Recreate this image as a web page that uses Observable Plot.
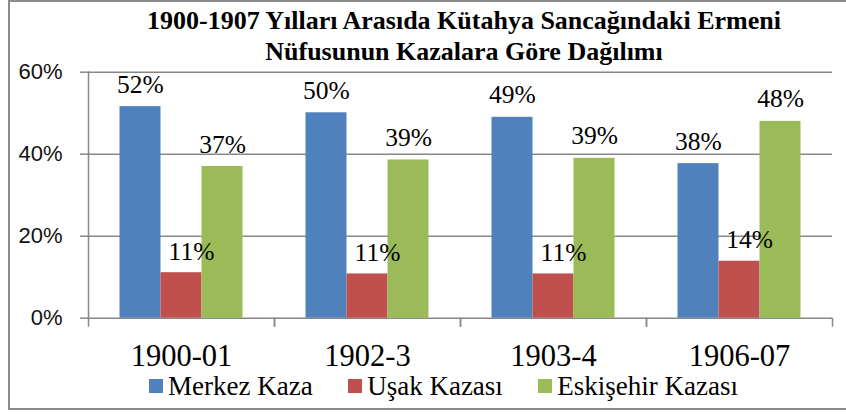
<!DOCTYPE html>
<html>
<head>
<meta charset="utf-8">
<script src="https://cdn.jsdelivr.net/npm/d3@7"></script>
<script src="https://cdn.jsdelivr.net/npm/@observablehq/plot@0.6"></script>
<style>
  html, body { margin: 0; padding: 0; background: #fff; }
  #wrap { position: relative; width: 846px; height: 414px; overflow: hidden; background: #fff; }
  #border { position: absolute; left: 8px; top: 0px; width: 900px; height: 410px; border: 2px solid #8c8c8c; box-sizing: border-box; }
  #title { position: absolute; left: 82px; width: 764px; top: 4.7px; text-align: center;
           font: bold 26px "Liberation Serif", "Times New Roman", serif; line-height: 31.7px; color: #000; }
  #chart { position: absolute; left: 0; top: 0; }
  #legend { position: absolute; left: 149px; top: 370.8px; display: flex; gap: 35.5px;
            font: 27px "Liberation Serif", "Times New Roman", serif; line-height: 30px; color: #000; white-space: nowrap; }
  .sw { display: inline-block; width: 13.5px; height: 13.5px; margin-right: 5.5px; margin-bottom: 2.3px; vertical-align: baseline; }
</style>
</head>
<body>
<div id="wrap">
  <div id="border"></div>
  <div id="chart"></div>
  <div id="title">1900-1907 Yılları Arasıda Kütahya Sancağındaki Ermeni<br>Nüfusunun Kazalara Göre Dağılımı</div>
  <div id="legend"></div>
</div>
<script>
const categories = ["1900-01", "1902-3", "1903-4", "1906-07"];
const series = ["Merkez Kaza", "Uşak Kazası", "Eskişehir Kazası"];
const merkez = [51.6, 50.1, 49.0, 37.7];
const usak = [11.1, 10.8, 10.8, 13.9];
const eskisehir = [37.0, 38.6, 39.0, 48.0];
const yTicks = [0, 20, 40, 60];
const colors = ["#4F81BD", "#C0504D", "#9BBB59"];

const seriesValues = [merkez, usak, eskisehir];
const data = [];
categories.forEach((c, i) => {
  series.forEach((s, j) => data.push({cat: c, series: s, value: seriesValues[j][i]}));
});

const W = 846, H = 414;
const mL = 88, mR = 14, mT = 71.7, mB = 96.3;
const bw = (W - mL - mR) / categories.length;
const serif = "Liberation Serif, Times New Roman, serif";
const sans = "Liberation Sans, Arial, sans-serif";
const grid = "#878787";

const plot = Plot.plot({
  width: W,
  height: H,
  marginLeft: mL, marginRight: mR, marginTop: mT, marginBottom: mB,
  facet: {marginTop: 0, marginRight: 0, marginBottom: 0, marginLeft: 0},
  style: {background: "transparent", overflow: "visible", fontFamily: sans},
  fx: {domain: categories, padding: 0, round: false, label: null},
  x: {domain: series, paddingInner: 0, paddingOuter: 0.768, round: false, axis: null},
  y: {domain: [0, 60], label: null},
  color: {domain: series, range: colors},
  marks: [
    Plot.gridY(yTicks, {stroke: grid, strokeOpacity: 1, strokeWidth: 1.5}),
    Plot.axisY(yTicks, {tickSize: 8, tickPadding: 18, tickFormat: d => d + "%", fontSize: 22,
      fontFamily: sans, fill: "#111", stroke: grid, strokeWidth: 1.5, label: null}),
    Plot.frame({anchor: "left", facetAnchor: "left", stroke: grid, strokeWidth: 1.5}),
    Plot.axisFx({anchor: "bottom", tickSize: 9, tickFormat: () => "", dx: -bw / 2, stroke: grid, strokeWidth: 1.5, label: null}),
    Plot.axisFx({anchor: "bottom", tickSize: 9, tickFormat: () => "", dx: bw / 2, stroke: grid, strokeWidth: 1.5, label: null}),
    Plot.axisFx({anchor: "bottom", tickSize: 0, tickPadding: 26.6, fontSize: 30.5, fontFamily: serif, fill: "#000", label: null}),
    Plot.barY(data, {fx: "cat", x: "series", y: "value", fill: "series"}),
    Plot.text(data.filter(d => d.series !== series[1]), {fx: "cat", x: "series", y: "value",
      text: d => Math.round(d.value) + "%", lineAnchor: "bottom", dy: -14, fontSize: 25.5, fontFamily: serif, fill: "#000"}),
    Plot.text(data.filter(d => d.series === series[1]), {fx: "cat", x: "series", y: "value",
      text: d => Math.round(d.value) + "%", lineAnchor: "bottom", dy: -13, dx: 10, fontSize: 25.5, fontFamily: serif, fill: "#000"})
  ]
});
document.getElementById("chart").appendChild(plot);

const legend = document.getElementById("legend");
series.forEach((s, i) => {
  const item = document.createElement("span");
  const sw = document.createElement("span");
  sw.className = "sw";
  sw.style.background = colors[i];
  item.appendChild(sw);
  item.appendChild(document.createTextNode(s));
  legend.appendChild(item);
});
</script>
</body>
</html>
